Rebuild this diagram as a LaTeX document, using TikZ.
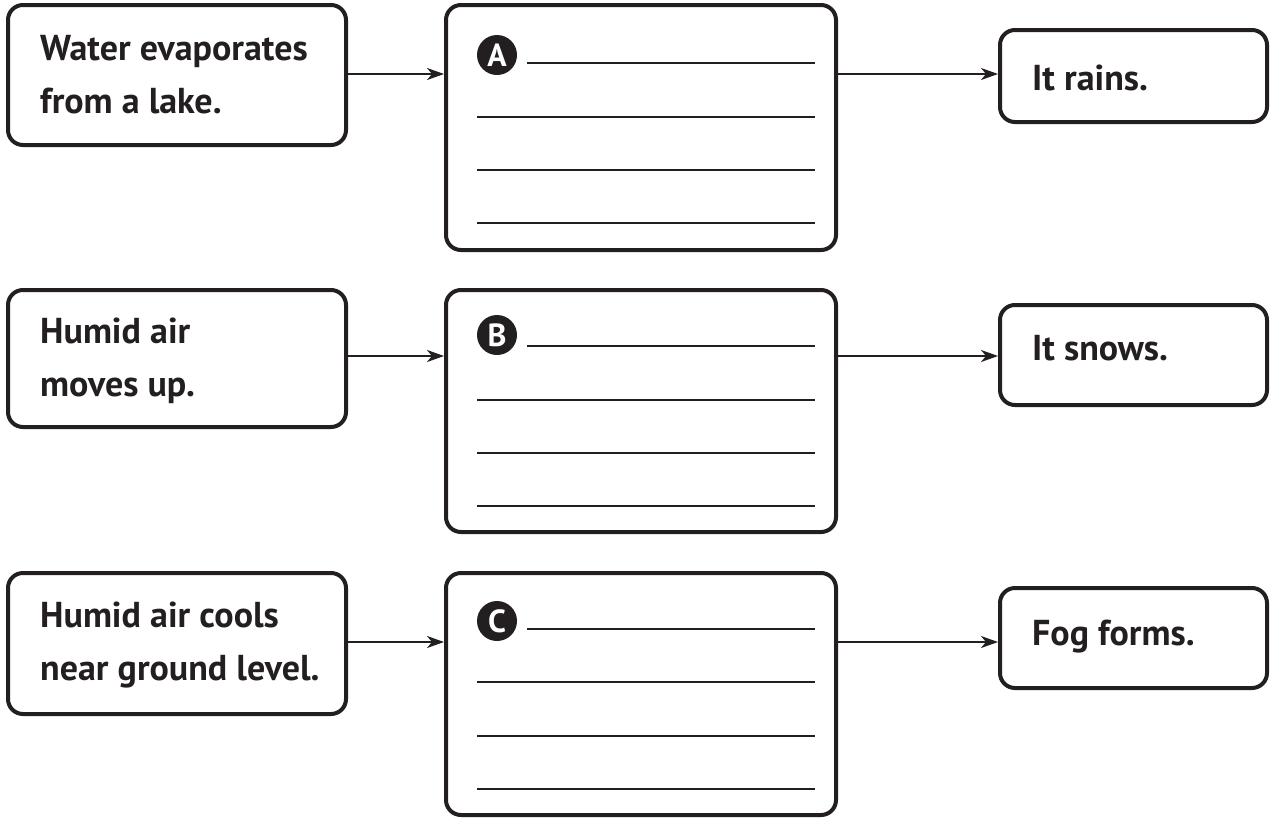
\documentclass[tikz,border=0pt]{standalone}
\usepackage{fontspec}
\setmainfont{PT Sans}
\usetikzlibrary{arrows.meta}
\definecolor{ink}{HTML}{231F20}
\tikzset{
  box/.style={draw=ink, line width=4pt, rounded corners=15pt, inner sep=0pt},
  txt/.style={anchor=base west, inner sep=0pt, font=\fontsize{36}{53}\selectfont\bfseries, text=ink, align=left},
  conn/.style={draw=ink, line width=2pt, -{Stealth[length=17pt,width=12pt,inset=5pt]}},
  wline/.style={draw=ink, line width=2.6pt},
  badge/.style={circle, fill=ink, text=white, minimum size=40pt, inner sep=0pt, font=\fontsize{32}{34}\selectfont\bfseries}
}
\begin{document}
\begin{tikzpicture}[x=1pt,y=-1pt]
\useasboundingbox (0,0) rectangle (1272,817);
% row 1
\node[box, minimum width=338pt, minimum height=140pt] (L1) at (177,75) {};
\node[box, minimum width=390pt, minimum height=245pt] (M1) at (641,127.5) {};
\node[box, minimum width=267pt, minimum height=92pt] (R1) at (1133.5,76) {};
\node[txt] (tL1) at (40,113) {Water evaporates\\from a lake.};
\node[txt] (tR1) at (1032,90) {It rains.};
\node[badge] (A) at (497,55) {A};
\coordinate (a1) at (527,63); \coordinate (a1e) at (815,63);
\coordinate (a2) at (477,117); \coordinate (a2e) at (815,117);
\coordinate (a3) at (477,170); \coordinate (a3e) at (815,170);
\coordinate (a4) at (477,223); \coordinate (a4e) at (815,223);
\draw[wline] (a1) -- (a1e); \draw[wline] (a2) -- (a2e);
\draw[wline] (a3) -- (a3e); \draw[wline] (a4) -- (a4e);
\draw[conn] (L1.east |- 0,74) -- (M1.west |- 0,74);
\draw[conn] (M1.east |- 0,74) -- (R1.west |- 0,74);
% row 2
\node[box, minimum width=338pt, minimum height=137pt] (L2) at (177,358.5) {};
\node[box, minimum width=390pt, minimum height=242pt] (M2) at (641,411) {};
\node[box, minimum width=267pt, minimum height=100pt] (R2) at (1133.5,355) {};
\node[txt] (tL2) at (40,396) {Humid air\\moves up.};
\node[txt] (tR2) at (1032,360) {It snows.};
\node[badge] (B) at (497,335) {B};
\coordinate (b1) at (527,346); \coordinate (b1e) at (815,346);
\coordinate (b2) at (477,400); \coordinate (b2e) at (815,400);
\coordinate (b3) at (477,453); \coordinate (b3e) at (815,453);
\coordinate (b4) at (477,506); \coordinate (b4e) at (815,506);
\draw[wline] (b1) -- (b1e); \draw[wline] (b2) -- (b2e);
\draw[wline] (b3) -- (b3e); \draw[wline] (b4) -- (b4e);
\draw[conn] (L2.east |- 0,356) -- (M2.west |- 0,356);
\draw[conn] (M2.east |- 0,356) -- (R2.west |- 0,356);
% row 3
\node[box, minimum width=338pt, minimum height=141pt] (L3) at (177,643.5) {};
\node[box, minimum width=390pt, minimum height=242pt] (M3) at (641,694) {};
\node[box, minimum width=267pt, minimum height=100pt] (R3) at (1133.5,638) {};
\node[txt] (tL3) at (40,680) {Humid air cools\\near ground level.};
\node[txt] (tR3) at (1032,645) {Fog forms.};
\node[badge] (C) at (497,621) {C};
\coordinate (c1) at (527,629); \coordinate (c1e) at (815,629);
\coordinate (c2) at (477,682); \coordinate (c2e) at (815,682);
\coordinate (c3) at (477,736); \coordinate (c3e) at (815,736);
\coordinate (c4) at (477,789); \coordinate (c4e) at (815,789);
\draw[wline] (c1) -- (c1e); \draw[wline] (c2) -- (c2e);
\draw[wline] (c3) -- (c3e); \draw[wline] (c4) -- (c4e);
\draw[conn] (L3.east |- 0,642) -- (M3.west |- 0,642);
\draw[conn] (M3.east |- 0,642) -- (R3.west |- 0,642);
\end{tikzpicture}
\end{document}
